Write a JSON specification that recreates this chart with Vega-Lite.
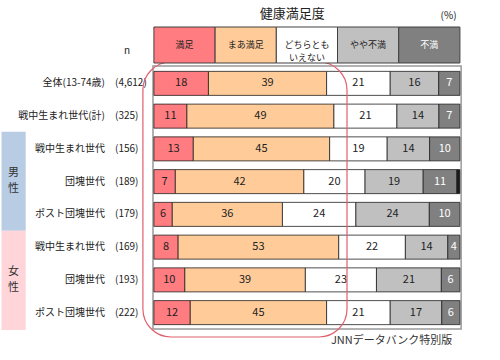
{
  "$schema": "https://vega.github.io/schema/vega-lite/v6.json",
  "width": 500,
  "height": 360,
  "autosize": {"type": "fit", "contains": "padding"},
  "padding": 0,
  "background": "white",
  "config": {"view": {"stroke": null}, "font": "Noto Sans CJK JP", "text": {"font": "Noto Sans CJK JP"}},
  "datasets": {
    "rows": [
      {"id": "r1", "name": "全体(13-74歳)", "n": "(4,612)"},
      {"id": "r2", "name": "戦中生まれ世代(計)", "n": "(325)"},
      {"id": "r3", "name": "戦中生まれ世代", "n": "(156)"},
      {"id": "r4", "name": "団塊世代", "n": "(189)"},
      {"id": "r5", "name": "ポスト団塊世代", "n": "(179)"},
      {"id": "r6", "name": "戦中生まれ世代", "n": "(169)"},
      {"id": "r7", "name": "団塊世代", "n": "(193)"},
      {"id": "r8", "name": "ポスト団塊世代", "n": "(222)"}
    ],
    "vals": [
      {"id": "r1", "cat": "満足", "v": 18}, {"id": "r1", "cat": "まあ満足", "v": 39}, {"id": "r1", "cat": "どちらともいえない", "v": 21}, {"id": "r1", "cat": "やや不満", "v": 16}, {"id": "r1", "cat": "不満", "v": 7},
      {"id": "r2", "cat": "満足", "v": 11}, {"id": "r2", "cat": "まあ満足", "v": 49}, {"id": "r2", "cat": "どちらともいえない", "v": 21}, {"id": "r2", "cat": "やや不満", "v": 14}, {"id": "r2", "cat": "不満", "v": 7},
      {"id": "r3", "cat": "満足", "v": 13}, {"id": "r3", "cat": "まあ満足", "v": 45}, {"id": "r3", "cat": "どちらともいえない", "v": 19}, {"id": "r3", "cat": "やや不満", "v": 14}, {"id": "r3", "cat": "不満", "v": 10},
      {"id": "r4", "cat": "満足", "v": 7}, {"id": "r4", "cat": "まあ満足", "v": 42}, {"id": "r4", "cat": "どちらともいえない", "v": 20}, {"id": "r4", "cat": "やや不満", "v": 19}, {"id": "r4", "cat": "不満", "v": 11}, {"id": "r4", "cat": "無回答", "v": 1},
      {"id": "r5", "cat": "満足", "v": 6}, {"id": "r5", "cat": "まあ満足", "v": 36}, {"id": "r5", "cat": "どちらともいえない", "v": 24}, {"id": "r5", "cat": "やや不満", "v": 24}, {"id": "r5", "cat": "不満", "v": 10},
      {"id": "r6", "cat": "満足", "v": 8}, {"id": "r6", "cat": "まあ満足", "v": 53}, {"id": "r6", "cat": "どちらともいえない", "v": 22}, {"id": "r6", "cat": "やや不満", "v": 14}, {"id": "r6", "cat": "不満", "v": 4},
      {"id": "r7", "cat": "満足", "v": 10}, {"id": "r7", "cat": "まあ満足", "v": 39}, {"id": "r7", "cat": "どちらともいえない", "v": 23}, {"id": "r7", "cat": "やや不満", "v": 21}, {"id": "r7", "cat": "不満", "v": 6},
      {"id": "r8", "cat": "満足", "v": 12}, {"id": "r8", "cat": "まあ満足", "v": 45}, {"id": "r8", "cat": "どちらともいえない", "v": 21}, {"id": "r8", "cat": "やや不満", "v": 17}, {"id": "r8", "cat": "不満", "v": 6}
    ],
    "header": [
      {"cat": "満足", "label": "満足"},
      {"cat": "まあ満足", "label": "まあ満足"},
      {"cat": "どちらともいえない", "label": "どちらとも\nいえない"},
      {"cat": "やや不満", "label": "やや不満"},
      {"cat": "不満", "label": "不満"}
    ],
    "groups": [
      {"g": "男性", "c1": "男", "c2": "性"},
      {"g": "女性", "c1": "女", "c2": "性"}
    ]
  },
  "resolve": {"scale": {"y": "independent"}},
  "layer": [
    {
      "data": {"values": [{"f": "f"}]},
      "mark": {"type": "rect", "fill": "white", "stroke": "#999999", "strokeWidth": 1.5},
      "encoding": {
        "x": {"datum": -0.003, "type": "quantitative", "scale": {"domain": [-0.503, 1.131], "nice": false, "zero": false}, "axis": null},
        "x2": {"datum": 1.004},
        "y": {"field": "f", "type": "nominal", "scale": {"domain": ["f"], "range": [66, 329], "paddingInner": 0, "paddingOuter": 0}, "axis": null}
      }
    },
    {
      "layer": [
        {
          "data": {"name": "vals"},
          "transform": [
            {"calculate": "indexof(['満足','まあ満足','どちらともいえない','やや不満','不満','無回答'], datum.cat)", "as": "k"},
            {"stack": "v", "groupby": ["id"], "sort": [{"field": "k", "order": "ascending"}], "offset": "normalize", "as": ["x0", "x1"]},
            {"calculate": "(datum.x0 + datum.x1) / 2", "as": "mid"}
          ],
          "layer": [
            {
              "mark": {"type": "bar", "stroke": "#222222", "strokeWidth": 0.8},
              "encoding": {
                "x": {"field": "x0", "type": "quantitative", "scale": {"domain": [-0.503, 1.131], "nice": false, "zero": false}, "axis": null},
                "x2": {"field": "x1"},
                "y": {"field": "id", "type": "nominal", "scale": {"domain": ["r1", "r2", "r3", "r4", "r5", "r6", "r7", "r8"], "range": [67, 329], "paddingInner": 0.267, "paddingOuter": 0.1335}, "axis": null},
                "color": {"field": "cat", "type": "nominal", "scale": {"domain": ["満足", "まあ満足", "どちらともいえない", "やや不満", "不満", "無回答"], "range": ["#FF7C80", "#FFCC99", "#FFFFFF", "#C0C0C0", "#808080", "#1a1a1a"]}, "legend": null}
              }
            },
            {
              "transform": [{"filter": "datum.cat != '無回答'"}],
              "mark": {"type": "text", "fontSize": 11, "baseline": "middle", "align": "center"},
              "encoding": {
                "x": {"field": "mid", "type": "quantitative"},
                "y": {"field": "id", "type": "nominal"},
                "text": {"field": "v", "type": "quantitative"},
                "color": {"condition": {"test": "datum.cat == '不満'", "value": "#ffffff"}, "value": "#222222"}
              }
            }
          ]
        },
        {
          "data": {"name": "rows"},
          "layer": [
            {
              "mark": {"type": "text", "align": "right", "baseline": "middle", "fontSize": 10, "color": "#222222"},
              "encoding": {
                "x": {"datum": -0.16, "type": "quantitative"},
                "y": {"field": "id", "type": "nominal"},
                "text": {"field": "name"}
              }
            },
            {
              "mark": {"type": "text", "align": "left", "baseline": "middle", "fontSize": 10, "color": "#222222"},
              "encoding": {
                "x": {"datum": -0.127, "type": "quantitative"},
                "y": {"field": "id", "type": "nominal"},
                "text": {"field": "n"}
              }
            }
          ]
        }
      ]
    },
    {
      "data": {"name": "groups"},
      "layer": [
        {
          "mark": {"type": "rect"},
          "encoding": {
            "x": {"datum": -0.498, "type": "quantitative"},
            "x2": {"datum": -0.419},
            "y": {"field": "g", "type": "nominal", "scale": {"domain": ["男性", "女性"], "range": [131.7, 330], "paddingInner": 0, "paddingOuter": 0}, "axis": null},
            "fill": {"condition": {"test": "datum.g == '男性'", "value": "#B8CCE4"}, "value": "#FFD5DA"}
          }
        },
        {
          "mark": {"type": "text", "fontSize": 11, "align": "center", "baseline": "middle", "dy": -8, "color": "#333333"},
          "encoding": {
            "x": {"datum": -0.4585, "type": "quantitative"},
            "y": {"field": "g", "type": "nominal"},
            "text": {"field": "c1"}
          }
        },
        {
          "mark": {"type": "text", "fontSize": 11, "align": "center", "baseline": "middle", "dy": 8, "color": "#333333"},
          "encoding": {
            "x": {"datum": -0.4585, "type": "quantitative"},
            "y": {"field": "g", "type": "nominal"},
            "text": {"field": "c2"}
          }
        }
      ]
    },
    {
      "data": {"values": [{"b": "b"}]},
      "mark": {"type": "rect", "fill": "transparent", "stroke": "#E0606E", "strokeWidth": 1.2, "cornerRadius": 28},
      "encoding": {
        "x": {"datum": -0.036, "type": "quantitative"},
        "x2": {"datum": 0.631},
        "y": {"field": "b", "type": "nominal", "scale": {"domain": ["b"], "range": [62, 337], "paddingInner": 0, "paddingOuter": 0}, "axis": null}
      }
    },
    {
      "data": {"name": "header"},
      "transform": [
        {"calculate": "indexof(['満足','まあ満足','どちらともいえない','やや不満','不満'], datum.cat)", "as": "k"},
        {"calculate": "1", "as": "w"},
        {"stack": "w", "groupby": [], "sort": [{"field": "k", "order": "ascending"}], "offset": "normalize", "as": ["h0", "h1"]},
        {"calculate": "(datum.h0 + datum.h1) / 2", "as": "hm"},
        {"calculate": "'h'", "as": "hy"}
      ],
      "layer": [
        {
          "mark": {"type": "rect", "stroke": "#404040", "strokeWidth": 1},
          "encoding": {
            "x": {"field": "h0", "type": "quantitative"},
            "x2": {"field": "h1"},
            "y": {"field": "hy", "type": "nominal", "scale": {"domain": ["h"], "range": [27, 63], "paddingInner": 0, "paddingOuter": 0}, "axis": null},
            "color": {"field": "cat", "type": "nominal", "legend": null}
          }
        },
        {
          "mark": {"type": "text", "fontSize": 9, "lineBreak": "\n", "lineHeight": 13, "align": "center", "baseline": "middle"},
          "encoding": {
            "x": {"field": "hm", "type": "quantitative"},
            "y": {"field": "hy", "type": "nominal"},
            "text": {"field": "label"},
            "color": {"condition": {"test": "datum.cat == '不満'", "value": "#ffffff"}, "value": "#222222"}
          }
        },
        {
          "transform": [{"filter": "datum.k == 0"}],
          "mark": {"type": "text", "fontSize": 10, "align": "center", "baseline": "middle", "dy": 6, "color": "#222222", "text": "n"},
          "encoding": {
            "x": {"datum": -0.088, "type": "quantitative"},
            "y": {"field": "hy", "type": "nominal"}
          }
        }
      ]
    },
    {
      "data": {"values": [{"t": "t", "title": "健康満足度", "pct": "(%)"}]},
      "layer": [
        {
          "mark": {"type": "text", "fontSize": 13, "align": "center", "baseline": "middle", "color": "#222222"},
          "encoding": {
            "x": {"datum": 0.452, "type": "quantitative"},
            "y": {"field": "t", "type": "nominal", "scale": {"domain": ["t"], "range": [4, 23], "paddingInner": 0, "paddingOuter": 0}, "axis": null},
            "text": {"field": "title"}
          }
        },
        {
          "mark": {"type": "text", "fontSize": 10, "align": "center", "baseline": "middle", "dy": 2, "color": "#222222"},
          "encoding": {
            "x": {"datum": 0.963, "type": "quantitative"},
            "y": {"field": "t", "type": "nominal"},
            "text": {"field": "pct"}
          }
        }
      ]
    },
    {
      "data": {"values": [{"s": "s", "src": "JNNデータバンク特別版"}]},
      "mark": {"type": "text", "fontSize": 11, "align": "right", "baseline": "middle", "color": "#333333"},
      "encoding": {
        "x": {"datum": 0.975, "type": "quantitative"},
        "y": {"field": "s", "type": "nominal", "scale": {"domain": ["s"], "range": [333, 349], "paddingInner": 0, "paddingOuter": 0}, "axis": null},
        "text": {"field": "src"}
      }
    }
  ]
}
